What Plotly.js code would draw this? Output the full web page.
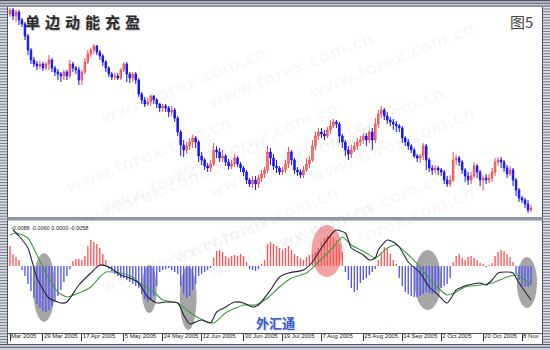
<!DOCTYPE html>
<html><head><meta charset="utf-8">
<script src="https://cdn.plot.ly/plotly-3.0.1.min.js"></script>
<style>html,body{margin:0;padding:0;background:#fff}#chart{width:550px;height:350px}</style>
</head><body><div id="chart"></div>
<script>
// ---- price bars (EUR/USD daily) ----
const openP = [1.342,1.346,1.340,1.344,1.336,1.332,1.320,1.306,1.296,1.292,
 1.290,1.292,1.288,1.292,1.296,1.288,1.284,1.282,1.280,1.284,
 1.280,1.292,1.288,1.286,1.276,1.284,1.294,1.302,1.306,1.310,
 1.304,1.300,1.294,1.288,1.282,1.279,1.280,1.278,1.286,1.292,
 1.282,1.278,1.282,1.276,1.262,1.256,1.252,1.254,1.260,1.256,
 1.252,1.248,1.250,1.248,1.244,1.246,1.238,1.224,1.211,1.206,
 1.210,1.214,1.218,1.214,1.200,1.196,1.190,1.188,1.192,1.206,
 1.204,1.198,1.200,1.194,1.190,1.192,1.198,1.192,1.188,1.184,
 1.176,1.172,1.176,1.172,1.178,1.182,1.186,1.204,1.198,1.190,
 1.188,1.184,1.186,1.192,1.204,1.196,1.186,1.184,1.181,1.186,
 1.192,1.196,1.210,1.220,1.224,1.222,1.220,1.226,1.230,1.234,
 1.232,1.220,1.214,1.206,1.202,1.206,1.210,1.214,1.216,1.220,
 1.216,1.224,1.216,1.232,1.242,1.246,1.240,1.236,1.234,1.232,
 1.230,1.228,1.218,1.214,1.210,1.206,1.200,1.198,1.200,1.210,
 1.196,1.188,1.186,1.188,1.186,1.184,1.176,1.172,1.176,1.196,
 1.198,1.194,1.186,1.180,1.176,1.180,1.190,1.184,1.176,1.178,
 1.176,1.178,1.184,1.194,1.196,1.194,1.188,1.182,1.186,1.176,
 1.166,1.158,1.156,1.152,1.146];
const highP = [1.348,1.348,1.346,1.346,1.338,1.334,1.322,1.308,1.299,1.295,
 1.295,1.294,1.294,1.301,1.298,1.290,1.287,1.284,1.286,1.286,
 1.296,1.294,1.290,1.289,1.286,1.298,1.306,1.308,1.312,1.311,
 1.306,1.302,1.296,1.290,1.284,1.283,1.283,1.288,1.294,1.294,
 1.284,1.284,1.284,1.278,1.264,1.259,1.258,1.261,1.261,1.258,
 1.253,1.252,1.252,1.250,1.250,1.248,1.240,1.226,1.216,1.214,
 1.218,1.221,1.220,1.216,1.204,1.198,1.193,1.196,1.213,1.210,
 1.208,1.206,1.202,1.197,1.196,1.202,1.200,1.194,1.190,1.186,
 1.178,1.180,1.180,1.181,1.186,1.189,1.210,1.208,1.202,1.196,
 1.190,1.189,1.196,1.209,1.206,1.198,1.189,1.187,1.190,1.198,
 1.200,1.216,1.224,1.228,1.228,1.226,1.229,1.236,1.237,1.236,
 1.234,1.222,1.216,1.210,1.211,1.214,1.218,1.220,1.223,1.223,
 1.226,1.228,1.238,1.246,1.250,1.248,1.244,1.239,1.237,1.235,
 1.232,1.230,1.220,1.217,1.212,1.208,1.202,1.202,1.213,1.212,
 1.198,1.191,1.191,1.190,1.188,1.186,1.180,1.181,1.204,1.201,
 1.200,1.196,1.188,1.184,1.184,1.194,1.192,1.186,1.181,1.182,
 1.182,1.188,1.198,1.199,1.199,1.196,1.191,1.190,1.188,1.178,
 1.168,1.160,1.158,1.156,1.151];
const lowP = [1.339,1.336,1.334,1.331,1.329,1.316,1.301,1.292,1.289,1.286,
 1.287,1.285,1.286,1.286,1.284,1.280,1.276,1.274,1.276,1.276,
 1.278,1.284,1.282,1.271,1.271,1.282,1.292,1.299,1.302,1.301,
 1.296,1.290,1.284,1.279,1.276,1.276,1.276,1.276,1.284,1.274,
 1.273,1.274,1.272,1.259,1.252,1.249,1.250,1.250,1.252,1.248,
 1.244,1.244,1.244,1.239,1.240,1.234,1.220,1.200,1.199,1.202,
 1.206,1.208,1.208,1.194,1.191,1.186,1.184,1.184,1.190,1.198,
 1.194,1.194,1.190,1.186,1.187,1.189,1.189,1.184,1.180,1.172,
 1.169,1.168,1.166,1.168,1.174,1.178,1.183,1.191,1.186,1.183,
 1.181,1.181,1.183,1.188,1.191,1.182,1.180,1.178,1.178,1.184,
 1.188,1.194,1.206,1.216,1.218,1.216,1.218,1.222,1.228,1.228,
 1.213,1.208,1.200,1.196,1.198,1.204,1.206,1.210,1.212,1.210,
 1.213,1.206,1.213,1.228,1.238,1.236,1.232,1.230,1.226,1.224,
 1.224,1.213,1.210,1.206,1.203,1.198,1.194,1.193,1.196,1.186,
 1.184,1.181,1.182,1.181,1.180,1.172,1.169,1.169,1.174,1.191,
 1.190,1.182,1.174,1.171,1.172,1.178,1.178,1.170,1.166,1.172,
 1.173,1.174,1.180,1.190,1.188,1.184,1.178,1.180,1.170,1.160,
 1.154,1.153,1.148,1.143,1.144];
const closeP = [1.346,1.340,1.344,1.336,1.332,1.320,1.306,1.296,1.292,1.290,
 1.292,1.288,1.292,1.296,1.288,1.284,1.282,1.280,1.284,1.280,
 1.292,1.288,1.286,1.276,1.284,1.294,1.302,1.306,1.310,1.304,
 1.300,1.294,1.288,1.282,1.279,1.280,1.278,1.286,1.292,1.282,
 1.278,1.282,1.276,1.262,1.256,1.252,1.254,1.260,1.256,1.252,
 1.248,1.250,1.248,1.244,1.246,1.238,1.224,1.211,1.206,1.210,
 1.214,1.218,1.214,1.200,1.196,1.190,1.188,1.192,1.206,1.204,
 1.198,1.200,1.194,1.190,1.192,1.198,1.192,1.188,1.184,1.176,
 1.172,1.176,1.172,1.178,1.182,1.186,1.204,1.198,1.190,1.188,
 1.184,1.186,1.192,1.204,1.196,1.186,1.184,1.181,1.186,1.192,
 1.196,1.210,1.220,1.224,1.222,1.220,1.226,1.230,1.234,1.232,
 1.220,1.214,1.206,1.202,1.206,1.210,1.214,1.216,1.220,1.216,
 1.224,1.216,1.232,1.242,1.246,1.240,1.236,1.234,1.232,1.230,
 1.228,1.218,1.214,1.210,1.206,1.200,1.198,1.200,1.210,1.196,
 1.188,1.186,1.188,1.186,1.184,1.176,1.172,1.176,1.196,1.198,
 1.194,1.186,1.180,1.176,1.180,1.190,1.184,1.176,1.178,1.176,
 1.178,1.184,1.194,1.196,1.194,1.188,1.182,1.186,1.176,1.166,
 1.158,1.156,1.152,1.146,1.148];

// ---- MACD panel ----
const histogram = [0.0020,0.0012,0.0009,0.0006,-0.0004,-0.0010,-0.0018,-0.0025,-0.0032,-0.0038,
 -0.0042,-0.0045,-0.0046,-0.0044,-0.0040,-0.0036,-0.0030,-0.0024,-0.0016,-0.0010,
 -0.0003,0.0005,0.0007,0.0007,0.0006,0.0010,0.0020,0.0026,0.0024,0.0022,
 0.0018,0.0012,0.0006,-0.0003,-0.0005,-0.0008,-0.0010,-0.0012,-0.0012,-0.0014,
 -0.0016,-0.0018,-0.0020,-0.0022,-0.0028,-0.0033,-0.0036,-0.0034,-0.0030,-0.0020,
 -0.0006,-0.0004,-0.0003,-0.0002,-0.0004,-0.0006,-0.0008,-0.0020,-0.0028,-0.0032,
 -0.0030,-0.0024,-0.0018,-0.0010,-0.0008,-0.0006,-0.0004,-0.0002,0.0008,0.0015,
 0.0016,0.0014,0.0010,0.0008,0.0010,0.0011,0.0010,0.0012,0.0010,0.0004,
 -0.0003,-0.0004,-0.0005,-0.0003,0.0002,0.0006,0.0022,0.0024,0.0022,0.0020,
 0.0018,0.0016,0.0018,0.0020,0.0016,0.0012,0.0010,0.0008,0.0006,0.0009,
 0.0011,0.0012,0.0014,0.0018,0.0024,0.0028,0.0030,0.0031,0.0028,0.0026,
 0.0022,0.0014,-0.0006,-0.0014,-0.0022,-0.0026,-0.0024,-0.0017,-0.0014,-0.0012,
 -0.0009,-0.0006,-0.0003,0.0006,0.0014,0.0019,0.0018,0.0012,0.0006,0.0002,
 -0.0012,-0.0020,-0.0026,-0.0028,-0.0030,-0.0031,-0.0031,-0.0030,-0.0028,-0.0026,
 -0.0027,-0.0028,-0.0026,-0.0024,-0.0022,-0.0020,-0.0018,-0.0012,0.0004,0.0010,
 0.0012,0.0008,0.0006,0.0009,0.0010,0.0008,0.0006,0.0003,0.0002,-0.0001,
 0.0001,0.0003,0.0010,0.0014,0.0016,0.0015,0.0012,0.0009,0.0004,-0.0008,
 -0.0014,-0.0020,-0.0021,-0.0021,-0.0018];
const macdX = [1,3,6,9,13,17,19,23,27,30,33,37,40,43,46,49,52,56,58,60,62,64,67,69,72,75,78,81,83,87,90,93,98,101,104,108,109,112,114,118,120,122,123,126,128,130,133,137,140,143,146,149,151,153,157,159,161,163,166,168,170,174];
const macdY = [0.0036,0.0030,0.0018,-0.0012,-0.0032,-0.0037,-0.0036,-0.0019,-0.0007,0.0001,-0.0001,-0.0009,-0.0012,-0.0017,-0.0031,-0.0037,-0.0036,-0.0037,-0.0049,-0.0058,-0.0056,-0.0054,-0.0057,-0.0046,-0.0041,-0.0036,-0.0037,-0.0041,-0.0039,-0.0024,-0.0011,-0.0007,-0.0004,0.0004,0.0018,0.0034,0.0036,0.0033,0.0018,0.0011,0.0006,0.0008,0.0016,0.0026,0.0024,0.0019,0.0004,-0.0007,-0.0021,-0.0029,-0.0037,-0.0024,-0.0021,-0.0019,-0.0017,-0.0019,-0.0014,-0.0007,-0.0006,-0.0007,-0.0017,-0.0034];
const signalX = [0,2,6,9,12,16,19,23,27,30,32,37,41,44,48,51,56,59,63,68,72,78,82,86,90,94,99,103,108,111,114,119,122,126,129,132,137,141,146,149,152,157,161,166,169,171,174];
const signalY = [0.0031,0.0033,0.0028,0.0011,-0.0007,-0.0026,-0.0031,-0.0027,-0.0021,-0.0011,-0.0006,-0.0007,-0.0011,-0.0019,-0.0026,-0.0034,-0.0037,-0.0044,-0.0052,-0.0057,-0.0047,-0.0039,-0.0039,-0.0032,-0.0021,-0.0012,-0.0007,0.0004,0.0019,0.0029,0.0021,0.0013,0.0008,0.0018,0.0021,0.0014,-0.0001,-0.0016,-0.0029,-0.0026,-0.0021,-0.0019,-0.0017,-0.0011,-0.0009,-0.0012,-0.0019];

// ---- axis labels ----
const tickPos = [0,11,24,38,51,64,78,91,104,118,131,144,158,171];
const tickText = ["Mar 2005","29 Mar 2005","17 Apr 2005","5 May 2005","24 May 2005","12 Jun 2005","30 Jun 2005","19 Jul 2005","7 Aug 2005","25 Aug 2005","14 Sep 2005","2 Oct 2005","20 Oct 2005","8 Nov"];
const titleText = "单\u2004边\u2004动\u2004能\u2004充\u2004盈";
const figLabel = "图5";
const stampText = "外汇通";
const valueLine = "-0.0088 -0.0060 0.0000 -0.0058";
const watermark = "www.forex.com.cn";

const barIdx = openP.map((_, i) => i);

const W = 550, H = 350;
const px = v => v / W, py = v => 1 - v / H;
function hStripes(x0, x1, y0, y1, step) {
  let d = '';
  for (let y = y0; y <= y1; y += step) d += `M${px(x0)},${py(y)}L${px(x1)},${py(y)}`;
  return d;
}
const P = {xref: 'paper', yref: 'paper'};
const shapes = [
  {type:'circle', xref:'x2', yref:'y2', x0:7.7, x1:15, y0:-0.0056, y1:0.0013, fillcolor:'#a6a6a6', line:{width:0}, layer:'below'},
  {type:'circle', xref:'x2', yref:'y2', x0:44, x1:49, y0:-0.0047, y1:0.0001, fillcolor:'#a6a6a6', line:{width:0}, layer:'below'},
  {type:'circle', xref:'x2', yref:'y2', x0:56.7, x1:62.3, y0:-0.0064, y1:0.0000, fillcolor:'#a6a6a6', line:{width:0}, layer:'below'},
  {type:'circle', xref:'x2', yref:'y2', x0:100.7, x1:111, y0:-0.0011, y1:0.0041, fillcolor:'#f3a2a2', line:{width:0}, layer:'below'},
  {type:'circle', xref:'x2', yref:'y2', x0:135, x1:144, y0:-0.0044, y1:0.0016, fillcolor:'#a6a6a6', line:{width:0}, layer:'below'},
  {type:'circle', xref:'x2', yref:'y2', x0:169.3, x1:176, y0:-0.0042, y1:0.0009, fillcolor:'#a6a6a6', line:{width:0}, layer:'below'},
  Object.assign({type:'rect', x0:0, x1:1, y0:py(7), y1:1, fillcolor:'#cdd1da', line:{width:0}}, P),
  Object.assign({type:'path', path:hStripes(0, 550, 0.6, 6, 2.7), line:{color:'#4c5464', width:1.1}}, P),
  Object.assign({type:'rect', x0:0, x1:px(7), y0:0, y1:py(7), fillcolor:'#dfe2e9', line:{width:0}}, P),
  Object.assign({type:'path', path:hStripes(0, 7, 9, 343, 2.8), line:{color:'#6b7384', width:1}}, P),
  Object.assign({type:'line', x0:px(7.5), x1:px(7.5), y0:py(7), y1:py(344), line:{color:'#4c5464', width:1}}, P),
  Object.assign({type:'rect', x0:px(543), x1:1, y0:0, y1:py(7), fillcolor:'#dfe2e9', line:{width:0}}, P),
  Object.assign({type:'path', path:hStripes(543, 550, 9, 343, 2.8), line:{color:'#6b7384', width:1}}, P),
  Object.assign({type:'line', x0:px(542.5), x1:px(542.5), y0:py(7), y1:py(344), line:{color:'#4c5464', width:1}}, P),
  Object.assign({type:'rect', x0:px(7.5), x1:px(542.5), y0:py(220.5), y1:py(217), fillcolor:'#9097a6', line:{width:0}}, P),
  Object.assign({type:'rect', x0:0, x1:1, y0:0, y1:py(344), fillcolor:'#cdd1da', line:{width:0}}, P),
  Object.assign({type:'path', path:hStripes(0, 550, 344.5, 349.5, 2.7), line:{color:'#4c5464', width:1.1}}, P)
];

const annotations = [];
[[95,40],[290,25],[480,15],[60,110],[255,95],[450,80],[95,175],[290,160],[480,145],[60,240],[255,225],[450,210],[95,300],[290,285],[480,270]].forEach(([x,y]) => {
  annotations.push({xref:'paper', yref:'paper', x:px(x), y:py(y), text:watermark, showarrow:false, textangle:-22,
    font:{family:'DejaVu Sans', size:17, weight:700, color:'rgba(150,150,160,0.07)'}});
});
annotations.push(
  {xref:'paper', yref:'paper', x:px(23), y:py(21), xanchor:'left', yanchor:'middle', text:titleText, showarrow:false,
   font:{family:'Noto Sans CJK SC', size:15, weight:700, color:'#2a2a2a', shadow:'1px 1px 1px #b8b8b8'}},
  {xref:'paper', yref:'paper', x:px(508), y:py(21.5), xanchor:'left', yanchor:'middle', text:figLabel, showarrow:false,
   font:{family:'Noto Sans CJK SC', size:15, color:'#444'}},
  {xref:'paper', yref:'paper', x:px(9), y:py(227.5), xanchor:'left', yanchor:'middle', text:valueLine, showarrow:false,
   font:{family:'Liberation Sans', size:5.5, color:'#222'}},
  {xref:'paper', yref:'paper', x:px(275), y:py(322.5), xanchor:'center', yanchor:'middle', text:stampText, showarrow:false,
   font:{family:'Noto Sans CJK SC', size:13, weight:700, color:'#3c5bc6', shadow:'1px 1px 0 #c9d2f2'}}
);

const traces = [
  {type:'candlestick', x:barIdx, open:openP, high:highP, low:lowP, close:closeP, xaxis:'x', yaxis:'y',
   increasing:{line:{color:'#f05050', width:1}, fillcolor:'#f58a8a'},
   decreasing:{line:{color:'#1414ff', width:1}, fillcolor:'#1414ff'},
   whiskerwidth:0, hoverinfo:'skip'},
  {type:'bar', x:barIdx, y:histogram, xaxis:'x2', yaxis:'y2', width:0.45,
   marker:{color:histogram.map(v => v >= 0 ? '#ff5454' : '#5454ff'), line:{width:0}}, hoverinfo:'skip'},
  {type:'scatter', mode:'lines', x:signalX, y:signalY, xaxis:'x2', yaxis:'y2',
   line:{color:'#3c9e3c', width:1.1, shape:'spline', smoothing:0.6}, hoverinfo:'skip'},
  {type:'scatter', mode:'lines', x:macdX, y:macdY, xaxis:'x2', yaxis:'y2',
   line:{color:'#22223c', width:1.1, shape:'spline', smoothing:0.6}, hoverinfo:'skip'}
];

const xr = [-0.667, 177.667];
const layout = {
  width: W, height: H, margin:{l:0, r:0, t:0, b:0},
  paper_bgcolor:'#ffffff', plot_bgcolor:'#ffffff', showlegend:false, boxgap:0.3,
  xaxis:{domain:[px(8), px(542)], range:xr, showgrid:false, zeroline:false, showticklabels:false, ticks:'', rangeslider:{visible:false}, fixedrange:true},
  yaxis:{domain:[py(217), py(7)], range:[1.139, 1.349], showgrid:false, zeroline:false, showticklabels:false, ticks:''},
  xaxis2:{domain:[px(8), px(542)], anchor:'y2', range:xr, tickvals:tickPos, ticktext:tickText, tickangle:0,
    ticks:'outside', ticklen:7, tickwidth:1, tickcolor:'#333', ticklabelposition:'outside right', ticklabelstandoff:-3,
    tickfont:{family:'Liberation Sans', size:6, color:'#222'},
    showline:true, linecolor:'#555', linewidth:1, showgrid:false, zeroline:false},
  yaxis2:{domain:[py(333), py(221)], anchor:'x2', range:[-0.0067, 0.0045], showgrid:false, zeroline:false, showticklabels:false, ticks:''},
  shapes, annotations
};
Plotly.newPlot('chart', traces, layout, {staticPlot:true, displayModeBar:false});
</script>
</body></html>
